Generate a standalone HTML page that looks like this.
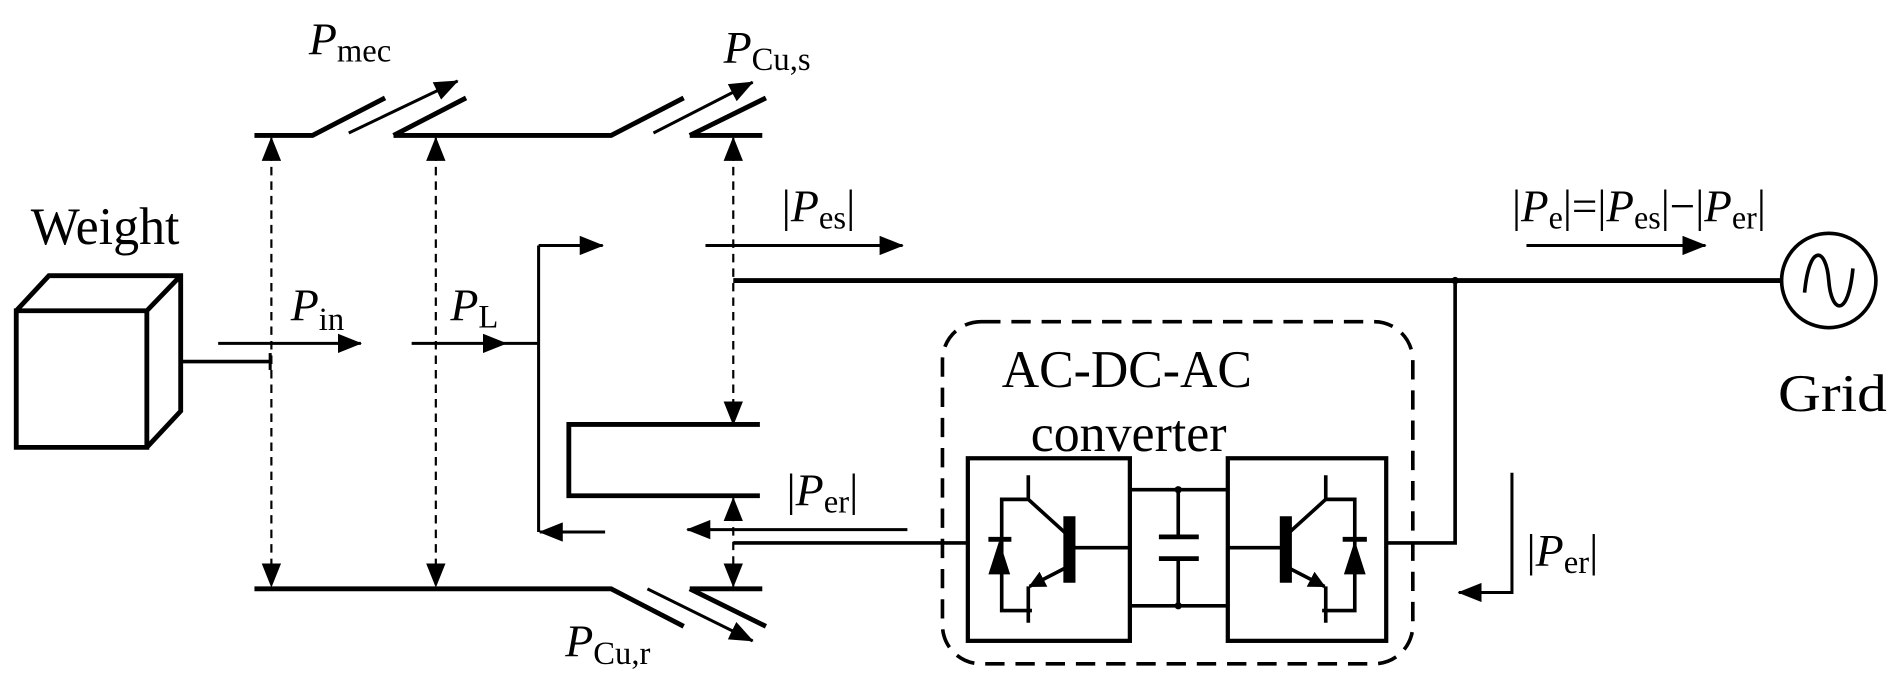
<!DOCTYPE html>
<html><head><style>html,body{margin:0;padding:0;background:#fff}svg{display:block}</style></head>
<body>
<svg width="1897" height="688" viewBox="0 0 1568 569" xmlns="http://www.w3.org/2000/svg" font-family="Liberation Serif, serif">
<defs>
<marker id="a" markerWidth="14" markerHeight="14" refX="13" refY="7" orient="auto" markerUnits="userSpaceOnUse" viewBox="0 0 14 14"><path d="M0,0 L14,7 L0,14 z" fill="#000"/></marker>
<marker id="b" markerWidth="20" markerHeight="16" refX="19" refY="8" orient="auto-start-reverse" markerUnits="userSpaceOnUse" viewBox="0 0 20 16"><path d="M0,0 L20,8 L0,16 z" fill="#000"/></marker>
</defs>
<g stroke="#000" stroke-width="4" fill="none">
<path d="M210,112 H258 L318,81"/>
<path d="M325,112 L385,81 M325,112 H505 L565,81 M570,112 L633,81 M570,112 H630"/>
<path d="M210,487 H505 L565,518 M570,487 L633,518 M570,487 H630"/>
<path d="M13,257 H121 V370 H13 Z M13,257 L40,228 H149 V340 L121,370 M121,257 L149,228"/>
<path d="M149,299 H223" stroke-width="3"/>
<path d="M628,351 H470 V410 H628"/>
<path d="M606,232 H1473"/>
<path d="M606,449 H800" stroke-width="3"/>
<path d="M1146,449 H1203 V232" stroke-width="3"/>
<rect x="800" y="379" width="134" height="151" stroke-width="3.5"/>
<rect x="1015" y="379" width="131" height="151" stroke-width="3.5"/>
<path d="M934,405 H1015 M934,501 H1015 M974,405 V444 M974,462 V501" stroke-width="3"/>
<path d="M958,444 H991 M958,462 H991" stroke-width="4"/>
<circle cx="1512" cy="232" r="39" stroke-width="3"/>
<path d="M1492,242 C1496,200 1510,205 1512,232 C1514,259 1528,264 1532,222" stroke-width="3"/>
</g>
<circle cx="1203" cy="232" r="3" fill="#000"/>
<circle cx="974" cy="405" r="3" fill="#000"/>
<circle cx="974" cy="501" r="3" fill="#000"/>
<g stroke="#000" stroke-width="3" fill="none">
<path d="M850,393 V413 L882,442 M884,453 H934 M850,485 V515 M850,413 H828 V505 H853"/>
<path d="M884,427 V482" stroke-width="10"/>
<path d="M882,469 L851,485" marker-end="url(#a)"/>
<path d="M817,446 H836" stroke-width="4"/>
<path d="M1096,393 V413 L1064,442 M1063,453 H1015 M1096,485 V515 M1096,413 H1120 V505 H1093"/>
<path d="M1063,427 V482" stroke-width="10"/>
<path d="M1064,469 L1095,485" marker-end="url(#a)"/>
<path d="M1110,446 H1130" stroke-width="4"/>
</g>
<path d="M826,447 L817,475 L835,475 Z M1120,447 L1111,475 L1129,475 Z" fill="#000"/>
<rect x="779" y="266" width="389" height="283" rx="32" fill="none" stroke="#000" stroke-width="3" stroke-dasharray="16,9"/>
<g stroke="#000" stroke-width="1.8" stroke-dasharray="7,5" fill="none">
<path d="M224,114 V485" marker-start="url(#b)" marker-end="url(#b)"/>
<path d="M360,114 V485" marker-start="url(#b)" marker-end="url(#b)"/>
<path d="M606,114 V351" marker-start="url(#b)" marker-end="url(#b)"/>
<path d="M606,412 V485" marker-start="url(#b)" marker-end="url(#b)"/>
</g>
<g stroke="#000" stroke-width="2.5" fill="none">
<path d="M288,110 L378,67" marker-end="url(#b)"/>
<path d="M540,110 L622,68" marker-end="url(#b)"/>
<path d="M535,487 L622,530" marker-end="url(#b)"/>
<path d="M180,284 H298" marker-end="url(#b)"/>
<path d="M340,284 H418" marker-end="url(#b)"/>
<path d="M418,284 H445"/>
<path d="M445,203 V440"/>
<path d="M445,203 H498" marker-end="url(#b)"/>
<path d="M500,440 H446" marker-end="url(#b)"/>
<path d="M583,203 H746" marker-end="url(#b)"/>
<path d="M750,438 H568" marker-end="url(#b)"/>
<path d="M1262,203 H1410" marker-end="url(#b)"/>
<path d="M1250,391 V490 H1206" marker-end="url(#b)"/>
<path d="M223,292 V306"/>
</g>
<g font-size="44" fill="#000">
<text x="25" y="202" textLength="123" lengthAdjust="spacingAndGlyphs">Weight</text>
<text x="1470" y="340" textLength="90" lengthAdjust="spacingAndGlyphs">Grid</text>
<text x="828" y="320" textLength="207" lengthAdjust="spacingAndGlyphs">AC-DC-AC</text>
<text x="852" y="373" textLength="162" lengthAdjust="spacingAndGlyphs">converter</text>
</g>
<g font-size="38" fill="#000">
<text x="255" y="45"><tspan font-style="italic">P</tspan><tspan font-size="27" dy="6">mec</tspan></text>
<text x="598" y="52"><tspan font-style="italic">P</tspan><tspan font-size="27" dy="6">Cu,s</tspan></text>
<text x="240" y="265"><tspan font-style="italic">P</tspan><tspan font-size="27" dy="8">in</tspan></text>
<text x="372" y="265"><tspan font-style="italic">P</tspan><tspan font-size="27" dy="6">L</tspan></text>
<text x="646" y="183">|<tspan font-style="italic">P</tspan><tspan font-size="27" dy="6">es</tspan><tspan dy="-6">|</tspan></text>
<text x="1250" y="183" textLength="210" lengthAdjust="spacingAndGlyphs">|<tspan font-style="italic">P</tspan><tspan font-size="27" dy="6">e</tspan><tspan dy="-6">|=|</tspan><tspan font-style="italic">P</tspan><tspan font-size="27" dy="6">es</tspan><tspan dy="-6">|−|</tspan><tspan font-style="italic">P</tspan><tspan font-size="27" dy="6">er</tspan><tspan dy="-6">|</tspan></text>
<text x="650" y="418">|<tspan font-style="italic">P</tspan><tspan font-size="27" dy="6">er</tspan><tspan dy="-6">|</tspan></text>
<text x="1262" y="468">|<tspan font-style="italic">P</tspan><tspan font-size="27" dy="6">er</tspan><tspan dy="-6">|</tspan></text>
<text x="467" y="543"><tspan font-style="italic">P</tspan><tspan font-size="27" dy="6">Cu,r</tspan></text>
</g>
</svg>
</body></html>
